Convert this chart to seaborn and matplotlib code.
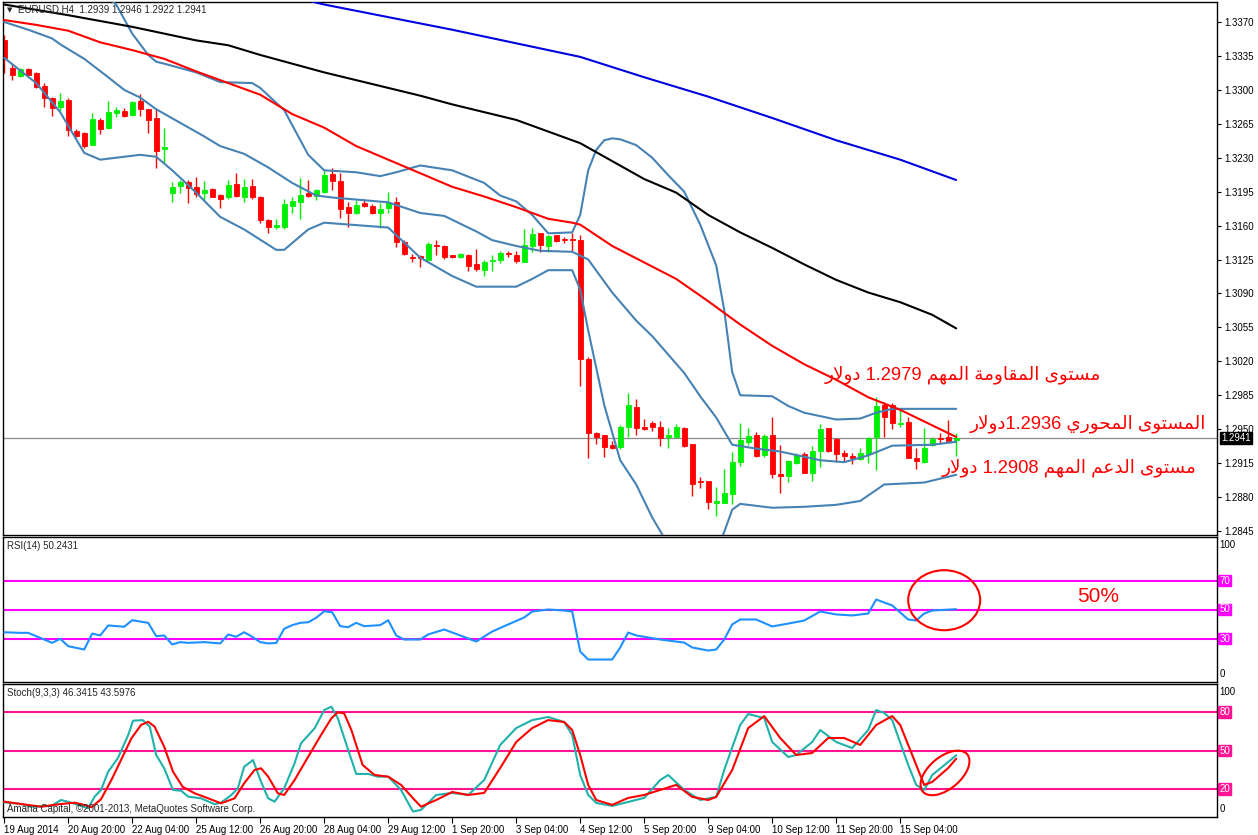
import numpy as np
import pandas as pd
import matplotlib
matplotlib.use("Agg")
import matplotlib.pyplot as plt
import seaborn as sns
from matplotlib.patches import Ellipse
from matplotlib.transforms import ScaledTranslation, blended_transform_factory

# ---------------- data ----------------
opens = [1.3351,1.3323,1.3314,1.3321,1.3317,1.3304,1.3292,1.3282,1.3290,1.3258,
         1.3255,1.3243,1.3269,1.3261,1.3276,1.3278,1.3274,1.3288,1.3280,1.3271,
         1.3239,1.3194,1.3201,1.3205,1.3200,1.3194,1.3198,1.3192,1.3189,1.3203,
         1.3190,1.3201,1.3190,1.3166,1.3159,1.3159,1.3180,1.3184,1.3194,1.3191,
         1.3195,1.3213,1.3206,1.3179,1.3173,1.3183,1.3180,1.3173,1.3178,1.3184,
         1.3143,1.3128,1.3129,1.3125,1.3140,1.3139,1.3130,1.3128,1.3130,1.3120,
         1.3114,1.3124,1.3125,1.3132,1.3130,1.3122,1.3139,1.3152,1.3139,1.3150,
         1.3146,1.3146,1.3145,1.3022,1.2946,1.2944,1.2934,1.2932,1.2952,1.2973,
         1.2952,1.2956,1.2952,1.2942,1.2942,1.2951,1.2935,1.2897,1.2897,1.2874,
         1.2874,1.2883,1.2916,1.2937,1.2944,1.2923,1.2944,1.2904,1.2902,1.2915,
         1.2924,1.2905,1.2928,1.2951,1.2940,1.2925,1.2922,1.2919,1.2924,1.2942,
         1.2975,1.2975,1.2955,1.2957,1.2920,1.2916,1.2934,1.2941,1.2942,1.2939]
highs = [1.3357,1.3327,1.3323,1.3323,1.3318,1.3307,1.3293,1.3297,1.3292,1.3260,
         1.3257,1.3276,1.3271,1.3288,1.3282,1.3281,1.3288,1.3296,1.3280,1.3280,
         1.3261,1.3205,1.3207,1.3207,1.3210,1.3206,1.3199,1.3193,1.3207,1.3214,
         1.3208,1.3208,1.3191,1.3167,1.3167,1.3187,1.3189,1.3209,1.3207,1.3198,
         1.3217,1.3219,1.3214,1.3184,1.3186,1.3187,1.3182,1.3183,1.3195,1.3189,
         1.3145,1.3131,1.3130,1.3143,1.3145,1.3140,1.3130,1.3132,1.3131,1.3136,
         1.3125,1.3130,1.3134,1.3134,1.3134,1.3156,1.3158,1.3152,1.3150,1.3150,
         1.3148,1.3152,1.3150,1.3024,1.2947,1.2944,1.2938,1.2954,1.2987,1.2981,
         1.2961,1.2958,1.2958,1.2951,1.2955,1.2952,1.2935,1.2901,1.2897,1.2890,
         1.2909,1.2927,1.2956,1.2951,1.2947,1.2945,1.2963,1.2934,1.2918,1.2925,
         1.2927,1.2933,1.2955,1.2951,1.2941,1.2929,1.2925,1.2931,1.2942,1.2983,
         1.2978,1.2977,1.2971,1.2963,1.2931,1.2951,1.2942,1.2946,1.2959,1.2946]
lows = [1.3317,1.3310,1.3313,1.3315,1.3302,1.3282,1.3273,1.3278,1.3252,1.3251,
        1.3240,1.3243,1.3254,1.3260,1.3272,1.3272,1.3273,1.3273,1.3256,1.3219,
        1.3225,1.3184,1.3194,1.3183,1.3190,1.3186,1.3189,1.3178,1.3187,1.3189,
        1.3184,1.3187,1.3163,1.3152,1.3156,1.3157,1.3173,1.3167,1.3190,1.3186,
        1.3194,1.3197,1.3168,1.3159,1.3172,1.3179,1.3172,1.3158,1.3173,1.3138,
        1.3130,1.3122,1.3117,1.3125,1.3130,1.3126,1.3127,1.3127,1.3113,1.3113,
        1.3108,1.3113,1.3121,1.3128,1.3121,1.3122,1.3133,1.3133,1.3133,1.3143,
        1.3142,1.3134,1.2995,1.2920,1.2935,1.2921,1.2930,1.2930,1.2942,1.2944,
        1.2949,1.2948,1.2933,1.2931,1.2942,1.2932,1.2881,1.2889,1.2868,1.2860,
        1.2874,1.2873,1.2912,1.2934,1.2921,1.2921,1.2900,1.2884,1.2896,1.2914,
        1.2905,1.2897,1.2911,1.2927,1.2916,1.2916,1.2914,1.2918,1.2915,1.2908,
        1.2942,1.2950,1.2952,1.2920,1.2909,1.2915,1.2933,1.2935,1.2937,1.2922]
closes = [1.3333,1.3315,1.3321,1.3315,1.3303,1.3292,1.3281,1.3289,1.3259,1.3252,
          1.3242,1.3270,1.3260,1.3277,1.3279,1.3273,1.3287,1.3280,1.3269,1.3237,
          1.3241,1.3200,1.3205,1.3199,1.3193,1.3197,1.3190,1.3187,1.3202,1.3191,
          1.3200,1.3189,1.3166,1.3159,1.3161,1.3182,1.3185,1.3192,1.3191,1.3197,
          1.3212,1.3206,1.3177,1.3173,1.3181,1.3180,1.3173,1.3177,1.3183,1.3143,
          1.3131,1.3127,1.3127,1.3141,1.3139,1.3128,1.3128,1.3131,1.3118,1.3115,
          1.3122,1.3125,1.3132,1.3131,1.3124,1.3140,1.3151,1.3140,1.3149,1.3144,
          1.3145,1.3145,1.3022,1.2946,1.2942,1.2932,1.2931,1.2952,1.2975,1.2951,
          1.2950,1.2952,1.2941,1.2944,1.2952,1.2933,1.2894,1.2896,1.2875,1.2876,
          1.2884,1.2916,1.2939,1.2943,1.2922,1.2943,1.2904,1.2902,1.2917,1.2923,
          1.2905,1.2928,1.2950,1.2928,1.2924,1.2922,1.2920,1.2925,1.2941,1.2974,
          1.2963,1.2956,1.2956,1.2920,1.2917,1.2931,1.2940,1.2940,1.2938,1.2941]

ma_red_x = [0,4,8,12,16,20,24,28,32,36,40,44,48,52,56,60,64,68,71,72,76,80,84,88,92,96,100,104,108,112,116,119]
ma_red = [1.3372,1.3367,1.3361,1.3349,1.3341,1.3332,1.3319,1.3307,1.3295,1.3275,1.3261,1.3242,1.3228,1.3214,1.3200,1.3190,
          1.3179,1.3167,1.3163,1.3161,1.3139,1.3122,1.3105,1.3082,1.3058,1.3036,1.3017,1.3001,1.2983,1.2970,1.2954,1.2942]
ma_black_x = [0,8,16,24,28,32,40,48,52,56,64,72,80,84,88,92,96,100,104,108,112,116,119]
ma_black = [1.3388,1.3377,1.3365,1.3351,1.3346,1.3336,1.3318,1.3302,1.3294,1.3285,1.3269,1.3245,1.3208,1.3194,1.3171,
            1.3153,1.3137,1.3120,1.3104,1.3091,1.3081,1.3068,1.3054]
ma_blue_x = [36,40,48,56,64,72,80,88,96,104,112,119]
ma_blue = [1.3396,1.3388,1.3375,1.3362,1.3348,1.3334,1.3313,1.3293,1.3271,1.3248,1.3228,1.3207]

bb_mid_x = [0,3,6,7,10,13,15,17,19,22,25,27,30,33,36,39,41,48,52,55,59,61,64,67,71,73,76,79,81,85,87,89,91,94,97,102,105,108,111,116,119]
bb_mid = [1.3370,1.3362,1.3353,1.3347,1.3332,1.3313,1.3300,1.3292,1.3280,1.3266,1.3252,1.3242,1.3234,1.3220,1.3204,1.3191,
          1.3189,1.3184,1.3173,1.3170,1.3154,1.3145,1.3139,1.3134,1.3133,1.3125,1.3091,1.3062,1.3046,1.3008,1.2984,1.2962,
          1.2934,1.2930,1.2927,1.2918,1.2916,1.2923,1.2933,1.2934,1.2937]
bb_low_x = [0,4,7,10,12,17,19,21,24,27,30,34,35,38,40,48,52,56,59,64,66,68,71,72,73,75,77,79,81,83,86,89,90,91,92,96,100,104,107,110,115,117,119]
bb_low = [1.3333,1.3307,1.3277,1.3235,1.3228,1.3233,1.3231,1.3217,1.3194,1.3169,1.3156,1.3135,1.3135,1.3156,1.3163,1.3158,
          1.3127,1.3108,1.3097,1.3097,1.3105,1.3114,1.3114,1.3094,1.3052,1.2975,1.2918,1.2893,1.2859,1.2831,1.2813,1.2825,
          1.2844,1.2867,1.2873,1.2869,1.2870,1.2872,1.2876,1.2893,1.2895,1.2899,1.2903]
bb_up_x = [0,4,8,12,14,16,18,19,20,24,27,31,32,35,38,40,44,47,49,52,56,60,62,64,66,68,71,72,73,74,75,76,77,79,81,83,85,87,89,90,91,92,96,98,100,104,107,109,111,119]
bb_up = [1.3407,1.3413,1.3413,1.3403,1.3388,1.3358,1.3336,1.3329,1.3327,1.3318,1.3308,1.3307,1.3302,1.3279,1.3233,1.3217,
         1.3215,1.3211,1.3215,1.3222,1.3217,1.3204,1.3191,1.3185,1.3171,1.3152,1.3153,1.3171,1.3217,1.3238,1.3248,1.3250,
         1.3249,1.3243,1.3230,1.3212,1.3195,1.3161,1.3119,1.3073,1.3009,1.2985,1.2984,1.2974,1.2967,1.2960,1.2961,1.2967,
         1.2971,1.2971]

rsi_x = [0,2,3,4,5,6,7,8,10,11,12,13,15,16,18,19,20,21,22,23,25,27,28,29,30,31,32,33,34,35,36,37,38,39,40,41,42,43,44,45,
         47,48,49,50,52,53,55,57,59,61,63,65,66,68,70,71,72,73,76,77,78,79,82,85,86,88,89,90,91,92,94,96,98,100,102,104,106,
         108,109,110,111,113,114,115,116,119]
rsi_vals = [34.3,33.9,33.9,31.6,29.3,27.0,29.8,24.7,22.4,33.4,32.1,39.0,38.1,42.6,40.8,31.6,32.1,25.9,27.5,27.0,27.5,26.6,
            32.8,31.2,34.3,31.2,27.5,26.6,26.9,36.7,39.2,40.8,41.2,44.3,48.8,48.1,38.5,37.8,40.8,38.5,39.2,42.6,32.1,29.3,
            29.3,32.8,36.2,32.1,27.9,34.8,39.7,44.5,48.6,50.0,49.3,48.6,21.0,15.5,15.5,23.8,34.1,32.1,29.3,27.2,23.8,21.7,
            22.4,29.3,39.7,43.1,43.1,38.3,40.3,42.4,48.6,46.6,45.9,47.2,56.9,54.8,52.8,43.1,42.4,47.2,49.3,50.2]

stk_x = [0,2.1,3.4,5.9,7.1,8.4,9.6,10.5,11.3,12.1,13,14.2,15.5,16.1,17.3,18.2,19,20,21.1,22.1,23,24.6,26.3,27.1,28.4,
         29.2,30,31.1,32.1,33,33.8,35,36.3,37.1,38.8,40,40.9,41.7,43,44,45.5,46.7,48,49.6,51.1,52.1,54,56,58,60,62,64,66,
         68,70,71,72,73,74,76,78,80,82,83,85,87,89,90,92,93,95,96,98,99,101,102,104,106,108,109,110,111,113,114,115,116,
         118,119]
stk_k = [9.8,8.5,6.4,7.0,11.6,9.5,7.0,5.2,14.2,19.4,33.6,44.0,62.0,73.1,73.6,68.5,46.5,36.2,19.4,18.8,14.2,12.9,8.3,9.5,
         15.5,20.7,37.4,42.6,25.8,12.9,10.3,20.7,40.1,55.6,67.2,81.4,84.0,75.0,50.4,31.8,31.8,29.7,29.7,19.4,2.6,3.9,15.5,
         17.1,15.5,27.1,54.3,67.4,73.6,76.0,72.1,62.0,31.0,15.5,9.3,7.0,10.1,13.2,27.1,31.0,19.4,11.6,14.0,34.9,69.8,78.3,
         75.2,56.6,45.0,46.5,56.6,65.9,56.6,51.9,65.9,81.4,79.1,73.6,38.8,23.3,19.4,31.0,41.1,46.3]
std_x = [0,2.1,4.6,7.1,8.8,10,10.9,12.1,13.4,14.6,15.9,17.1,18,18.8,20,21.1,22.3,23.8,25.5,27.1,28.8,30,31.3,32.1,33,
         34.2,35,36.3,38,39.6,40.9,41.7,42.5,43.4,44.8,46.3,48,49.6,51.3,52.1,54,56,58,60,62,64,66,68,70,71,72,73,74,76,
         78,80,82,84,86,88,89,91,93,95,97,99,101,103,105,107,109,111,112,114,115,116,118,119]
std_d = [10.3,8.5,6.4,8.5,9.5,7.8,6.0,12.2,27.1,42.6,59.4,69.8,72.3,68.5,52.9,33.6,21.9,16.8,12.9,9.0,12.9,24.6,34.9,
         36.2,29.7,16.8,15.5,27.1,45.2,62.0,75.0,79.6,78.8,65.9,38.8,31.0,29.7,23.3,11.6,6.4,11.6,17.8,15.5,17.1,36.4,
         56.6,67.4,73.6,72.1,65.9,46.5,23.3,11.6,7.8,13.2,15.5,19.4,23.3,14.0,11.6,14.0,34.9,67.4,76.7,59.7,46.5,48.1,
         59.7,59.7,54.3,69.8,76.7,69.8,38.8,23.3,25.6,36.4,43.6]

y_ticks = [1.2845,1.2880,1.2915,1.2950,1.2985,1.3020,1.3055,1.3090,1.3125,1.3160,1.3195,1.3230,1.3265,1.3300,1.3335,1.3370]
x_tick_bars = [0,8,16,24,32,40,48,56,64,72,80,88,96,104,112]
x_tick_labels = ['19 Aug 2014','20 Aug 20:00','22 Aug 04:00','25 Aug 12:00','26 Aug 20:00','28 Aug 04:00',
                 '29 Aug 12:00','1 Sep 20:00','3 Sep 04:00','4 Sep 12:00','5 Sep 20:00','9 Sep 04:00',
                 '10 Sep 12:00','11 Sep 20:00','15 Sep 04:00']
rsi_levels = [70, 50, 30]
stoch_levels = [80, 50, 20]
last_price = 1.2941

txt_res = "مستوى المقاومة المهم 1.2979 دولار"
txt_piv = "المستوى المحوري 1.2936دولار"
txt_sup = "مستوى الدعم المهم 1.2908 دولار"

# ---------------- Arabic shaping (visual order for matplotlib) ----------------
FORMS = {
    '\u0627': ('\uFE8D', '\uFE8E', None, None),
    '\u062F': ('\uFEA9', '\uFEAA', None, None),
    '\u0631': ('\uFEAD', '\uFEAE', None, None),
    '\u0648': ('\uFEED', '\uFEEE', None, None),
    '\u0629': ('\uFE93', '\uFE94', None, None),
    '\u0649': ('\uFEEF', '\uFEF0', None, None),
    '\u0644': ('\uFEDD', '\uFEDE', '\uFEDF', '\uFEE0'),
    '\u0645': ('\uFEE1', '\uFEE2', '\uFEE3', '\uFEE4'),
    '\u0633': ('\uFEB1', '\uFEB2', '\uFEB3', '\uFEB4'),
    '\u062A': ('\uFE95', '\uFE96', '\uFE97', '\uFE98'),
    '\u0642': ('\uFED5', '\uFED6', '\uFED7', '\uFED8'),
    '\u0647': ('\uFEE9', '\uFEEA', '\uFEEB', '\uFEEC'),
    '\u062D': ('\uFEA1', '\uFEA2', '\uFEA3', '\uFEA4'),
    '\u064A': ('\uFEF1', '\uFEF2', '\uFEF3', '\uFEF4'),
    '\u0639': ('\uFEC9', '\uFECA', '\uFECB', '\uFECC'),
}
LAM_ALEF = ('\uFEFB', '\uFEFC', None, None)


def shape_word(w):
    units = []
    i = 0
    while i < len(w):
        if w[i] == '\u0644' and i + 1 < len(w) and w[i + 1] == '\u0627':
            units.append(LAM_ALEF)
            i += 2
        else:
            units.append(FORMS.get(w[i], (w[i], w[i], None, None)))
            i += 1
    out = []
    for k, f in enumerate(units):
        jp = k > 0 and units[k - 1][2] is not None
        jn = f[2] is not None and k + 1 < len(units)
        if jp and jn:
            out.append(f[3])
        elif jp:
            out.append(f[1])
        elif jn:
            out.append(f[2])
        else:
            out.append(f[0])
    return ''.join(out)


def visual_rtl(s):
    runs = []
    for ch in s:
        t = 'a' if '\u0600' <= ch <= '\u06FF' else ('s' if ch == ' ' else 'n')
        if runs and runs[-1][0] == t:
            runs[-1][1] += ch
        else:
            runs.append([t, ch])
    return ''.join(shape_word(t)[::-1] if k == 'a' else t for k, t in reversed(runs))


# ---------------- figure ----------------
sns.set_theme(style='white')
plt.rcParams['font.family'] = ['Liberation Sans', 'DejaVu Sans']
W, H, DPI = 1258, 835, 100
fig = plt.figure(figsize=(W / DPI, H / DPI), dpi=DPI)
fig.patch.set_facecolor('white')


def rect(x0, y0, x1, y1):
    return [x0 / W, 1 - y1 / H, (x1 - x0) / W, (y1 - y0) / H]


ax = fig.add_axes(rect(3, 2, 1217, 535))
ax_rsi = fig.add_axes(rect(3, 537, 1217, 682))
ax_st = fig.add_axes(rect(3, 684, 1217, 817))

XLIM = (-0.15, 151.6)
BULL, BEAR = '#00EE00', '#FF0000'
BB = '#4682B4'
LW = 1.5

# candles
df = pd.DataFrame({'bar': np.arange(len(opens)), 'open': opens, 'high': highs, 'low': lows, 'close': closes})
cols = np.where(df['close'] >= df['open'], BULL, BEAR)
ax.axhline(last_price, color='#8C8C8C', lw=0.9, zorder=1)
ax.vlines(df['bar'], df['low'], df['high'], colors=cols, lw=1.0, zorder=2)
ax.bar(df['bar'], df['close'] - df['open'], bottom=df['open'], width=0.62, color=cols,
       edgecolor=cols, linewidth=0.6, zorder=2)

for xs, ys, c in [(bb_up_x, bb_up, BB), (bb_mid_x, bb_mid, BB), (bb_low_x, bb_low, BB),
                  (ma_black_x, ma_black, 'black'), (ma_blue_x, ma_blue, '#0000E0'), (ma_red_x, ma_red, 'red')]:
    sns.lineplot(x=xs, y=ys, ax=ax, color=c, lw=LW, zorder=3, legend=False)

ax.set_xlim(*XLIM)
ax.set_ylim(1.28409, 1.33906)
ax.yaxis.tick_right()
ax.set_yticks(y_ticks)
ax.set_yticklabels([f'{t:.4f}' for t in y_ticks])
ax.set_xticks([])
ax.tick_params(axis='y', direction='out', length=3, width=0.8, labelsize=7, pad=2, colors='black', right=True)
tr = blended_transform_factory(ax.transAxes, ax.transData)
ax.text(1.0035, last_price, f'{last_price:.4f}', transform=tr, color='white', fontsize=7, va='center', ha='left',
        bbox=dict(boxstyle='square,pad=0.12', fc='black', ec='black'), zorder=10)

# annotations (Arabic)
afont = dict(color='red', fontsize=13.2, family=['Liberation Sans', 'DejaVu Sans'])
ax.text(137.1, 1.3006, visual_rtl(txt_res), ha='right', va='center', **afont)
ax.text(150.25, 1.2956, visual_rtl(txt_piv), ha='right', va='center', **afont)
ax.text(149.0, 1.2910, visual_rtl(txt_sup), ha='right', va='center', **afont)

# RSI
for lv in rsi_levels:
    ax_rsi.axhline(lv, color='#FF00FF', lw=LW, zorder=1)
sns.lineplot(x=rsi_x, y=rsi_vals, ax=ax_rsi, color='#1E90FF', lw=LW, zorder=3, legend=False)
ax_rsi.set_xlim(*XLIM)
ax_rsi.set_ylim(0, 100)
ax_rsi.set_xticks([])
ax_rsi.set_yticks([])
tr_r = blended_transform_factory(ax_rsi.transAxes, ax_rsi.transData)
for lv in rsi_levels:
    ax_rsi.text(1.002, lv, str(lv), transform=tr_r, color='white', fontsize=7, va='center', ha='left',
                bbox=dict(boxstyle='square,pad=0.1', fc='#FF00FF', ec='#FF00FF'))
ax_rsi.text(1.002, 98, '100', transform=tr_r, fontsize=7, va='top', ha='left', color='black')
ax_rsi.text(1.002, 2, '0', transform=tr_r, fontsize=7, va='bottom', ha='left', color='black')
ax_rsi.text(136.75, 59.0, '50%', color='red', fontsize=15, ha='center', va='center')

# Stochastic
for lv in stoch_levels:
    ax_st.axhline(lv, color='#FF1493', lw=LW, zorder=1)
sns.lineplot(x=stk_x, y=stk_k, ax=ax_st, color='#20B2AA', lw=LW, zorder=3, legend=False)
sns.lineplot(x=std_x, y=std_d, ax=ax_st, color='red', lw=LW, zorder=4, legend=False)
ax_st.set_xlim(*XLIM)
ax_st.set_ylim(-1.6, 101.6)
ax_st.set_yticks([])
ax_st.set_xticks(x_tick_bars)
ax_st.set_xticklabels(x_tick_labels)
ax_st.tick_params(axis='x', direction='out', length=4, width=0.8, labelsize=7, pad=2, colors='black', bottom=True)
for lbl in ax_st.get_xticklabels():
    lbl.set_ha('left')
tr_s = blended_transform_factory(ax_st.transAxes, ax_st.transData)
for lv in stoch_levels:
    ax_st.text(1.002, lv, str(lv), transform=tr_s, color='white', fontsize=7, va='center', ha='left',
               bbox=dict(boxstyle='square,pad=0.1', fc='#FF1493', ec='#FF1493'))
ax_st.text(1.002, 99, '100', transform=tr_s, fontsize=7, va='top', ha='left', color='black')
ax_st.text(1.002, 1, '0', transform=tr_s, fontsize=7, va='bottom', ha='left', color='black')

for a in (ax, ax_rsi, ax_st):
    a.set_facecolor('white')
    for s in a.spines.values():
        s.set_color('black')
        s.set_linewidth(1.0)
    a.set_xlabel('')
    a.set_ylabel('')


def ring(a, x, y, w_px, h_px, angle):
    t = fig.dpi_scale_trans + ScaledTranslation(x, y, a.transData)
    e = Ellipse((0, 0), w_px / DPI, h_px / DPI, angle=angle, transform=t, fill=False, ec='red', lw=1.5)
    fig.add_artist(e)


ring(ax_rsi, 117.5, 56.4, 72, 60, 0)
ring(ax_st, 117.6, 32.6, 58, 32, 40)

# header texts
fig.text(7 / W, 1 - 10 / H, '\u25BC', fontsize=5, va='center', ha='left', family='DejaVu Sans')
fig.text(18 / W, 1 - 10 / H, 'EURUSD,H4  1.2939 1.2946 1.2922 1.2941', fontsize=7, va='center', ha='left')
fig.text(7 / W, 1 - 546 / H, 'RSI(14) 50.2431', fontsize=7, va='center', ha='left')
fig.text(7 / W, 1 - 693 / H, 'Stoch(9,3,3) 46.3415 43.5976', fontsize=7, va='center', ha='left')
fig.text(7 / W, 1 - 809 / H, 'Amana Capital, \u00A92001-2013, MetaQuotes Software Corp.', fontsize=7,
         va='center', ha='left')

fig.savefig('out.png', dpi=DPI, facecolor='white')
